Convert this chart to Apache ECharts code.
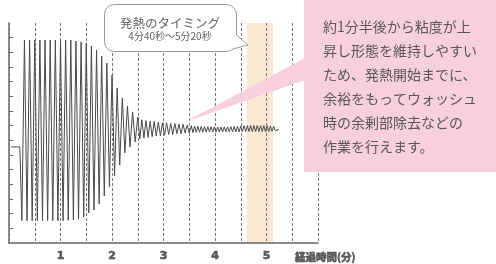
<!DOCTYPE html>
<html>
<head>
<meta charset="utf-8">
<script src="https://cdn.jsdelivr.net/npm/echarts@6/dist/echarts.min.js"></script>
<style>
  html, body { margin: 0; padding: 0; background: #fff; }
  #chart { width: 496px; height: 264px; }
</style>
</head>
<body>
<div id="chart"></div>
<script>
// flat part before the oscillation starts (minutes, value)
var flatStart = [[0.04, 6.55], [0.21, 6.55]];

// main oscillation: trough / peak alternating every 0.05 min from 0.25 min
var mainStart = 0.25;
var mainStep = 0.05;
var mainValues = [
    1.52, 13.84, 1.52, 13.84, 1.52, 13.84, 1.52, 13.84, 1.52, 13.84,
    1.52, 13.84, 1.52, 13.84, 1.52, 13.84, 1.52, 13.84, 1.55, 13.84,
    1.57, 13.77, 1.64, 13.70, 1.77, 13.64, 2.05, 13.43, 2.25, 13.16,
    2.66, 12.75, 3.20, 12.27, 3.82, 11.45, 4.57, 10.57, 5.32, 9.89,
    6.14, 9.34, 6.55, 8.93, 6.89, 8.59
];

// small ripple after the viscosity rises
var tailAStart = 2.54;
var tailAStep = 0.04;
var tailAValues = [
    7.10, 8.40, 7.15, 8.35, 7.20, 8.30, 7.25, 8.30, 7.30, 8.25,
    7.30, 8.20, 7.35, 8.20, 7.40, 8.15, 7.40, 8.15, 7.45, 8.10,
    7.45, 8.10, 7.50, 8.05, 7.50
];

var tailBStart = 3.54;
var tailBStep = 0.032;
var tailBValues = [
    8.00, 7.52, 7.98, 7.54, 7.96, 7.55, 7.95, 7.56, 7.94, 7.57,
    7.93, 7.58, 7.92, 7.58, 7.92, 7.58, 7.91, 7.58, 7.91, 7.58,
    7.92, 7.58, 7.92, 7.58, 7.93, 7.58, 7.94, 7.58, 7.95, 7.58,
    7.98, 7.60, 8.00, 7.60, 8.00, 7.60, 8.01, 7.60, 8.01, 7.60,
    8.01, 7.60, 8.00, 7.60, 8.00, 7.60, 8.00, 7.60, 7.98, 7.62,
    7.95, 7.65
];
var tailEnd = [5.24, 7.75];

// heat generation timing band (minutes)
var timingBand = [4.62, 5.13];

var xLabels = [1, 2, 3, 4, 5];
var yTicks = [1, 2, 3, 4, 5, 6, 7, 8, 9, 10, 11, 12, 13, 14];

var noteText = '約1分半後から粘度が上\n昇し形態を維持しやすい\nため、発熱開始までに、\n余裕をもってウォッシュ\n時の余剰部除去などの\n作業を行えます。';

function pushSegment(pts, start, step, values) {
    values.forEach(function (v, i) {
        pts.push([+(start + i * step).toFixed(4), v]);
    });
}

function buildWave() {
    var pts = flatStart.slice();
    pushSegment(pts, mainStart, mainStep, mainValues);
    pushSegment(pts, tailAStart, tailAStep, tailAValues);
    pushSegment(pts, tailBStart, tailBStep, tailBValues);
    pts.push(tailEnd);
    return pts;
}

var font = '"Noto Sans CJK JP", "Noto Sans", sans-serif';
var textGray = '#595757';

var chart = echarts.init(document.getElementById('chart'));

var option = {
    animation: false,
    grid: { left: 9, right: 178, top: 23, bottom: 21 },
    xAxis: {
        type: 'value',
        min: 0,
        max: 6,
        interval: 0.5,
        z: 3,
        axisLine: { show: true, lineStyle: { color: '#666', width: 1.5 } },
        axisTick: { show: false },
        axisLabel: {
            customValues: xLabels,
            margin: 8,
            color: textGray,
            fontFamily: '"DejaVu Sans", sans-serif',
            fontWeight: 'bold',
            fontSize: 11,
            // printed labels are heavier than the font's bold
            textBorderColor: textGray,
            textBorderWidth: 0.6
        },
        splitLine: {
            show: true,
            lineStyle: { color: '#777', width: 1, type: [3, 2] }
        }
    },
    yAxis: {
        type: 'value',
        min: 0,
        max: 15,
        interval: 1,
        axisLine: { show: true, lineStyle: { color: '#666', width: 1.5 } },
        axisTick: {
            show: true,
            inside: true,
            length: 4,
            customValues: yTicks,
            lineStyle: { color: '#666' }
        },
        axisLabel: { show: false },
        splitLine: { show: false }
    },
    series: [{
        type: 'line',
        data: buildWave(),
        showSymbol: false,
        symbol: 'none',
        lineStyle: { color: '#4a4a4a', width: 1 },
        markArea: {
            silent: true,
            itemStyle: { color: '#fbe8d3' },
            data: [[{ xAxis: timingBand[0] }, { xAxis: timingBand[1] }]]
        }
    }],
    graphic: [
        // pink note and its pointer
        {
            type: 'polygon', z: 10,
            shape: { points: [[185, 122], [305, 58], [305, 80]] },
            style: { fill: '#f7cfdd' }
        },
        {
            type: 'rect', z: 10,
            shape: { x: 304, y: 0, width: 192, height: 172 },
            style: { fill: '#f7cfdd' }
        },
        {
            type: 'text', z: 11,
            x: 323, y: 15,
            style: {
                text: noteText,
                fill: textGray,
                font: '14px ' + font,
                lineHeight: 24,
                textVerticalAlign: 'top'
            }
        },
        // timing speech bubble
        {
            type: 'rect', z: 10,
            shape: { x: 104.5, y: 4.5, width: 132, height: 47, r: 10 },
            style: { fill: '#fff', stroke: '#999', lineWidth: 1 }
        },
        {
            type: 'polygon', z: 11,
            shape: { points: [[236.5, 35], [248, 45], [233, 49], [230, 40]] },
            style: { fill: '#fff' }
        },
        {
            type: 'polyline', z: 12,
            shape: { points: [[236.5, 35], [248, 45], [233, 49]] },
            style: { stroke: '#999', lineWidth: 1, fill: null }
        },
        {
            type: 'text', z: 12,
            x: 170, y: 23,
            style: {
                text: '発熱のタイミング',
                fill: '#666',
                font: '12.5px ' + font,
                textAlign: 'center',
                textVerticalAlign: 'middle'
            }
        },
        {
            type: 'text', z: 12,
            x: 170, y: 36,
            style: {
                text: '4分40秒〜5分20秒',
                fill: '#666',
                font: '10px ' + font,
                textAlign: 'center',
                textVerticalAlign: 'middle'
            }
        },
        // x axis title
        {
            type: 'text', z: 12,
            x: 295, y: 257,
            style: {
                text: '経過時間(分)',
                fill: textGray,
                font: 'bold 10.5px ' + font,
                stroke: textGray,
                lineWidth: 0.6,
                textAlign: 'left',
                textVerticalAlign: 'middle'
            }
        }
    ]
};

chart.setOption(option);

window.addEventListener('resize', function () {
    chart.resize();
});
</script>
</body>
</html>
